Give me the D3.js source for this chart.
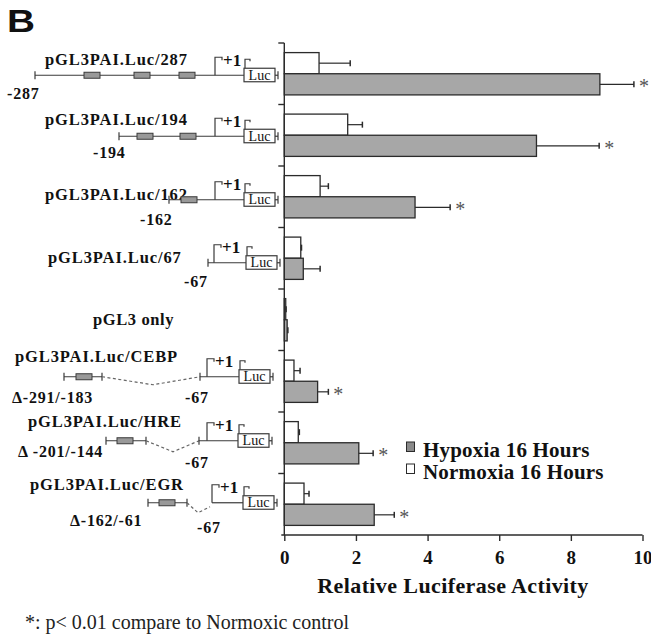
<!DOCTYPE html>
<html>
<head>
<meta charset="utf-8">
<script src="https://cdn.jsdelivr.net/npm/d3@7"></script>
<style>
  body { margin: 0; background: #fff; }
  svg { display: block; }
  text { fill: #111; }
  .serif { font-family: "Liberation Serif", "Times New Roman", serif; }
  .bold { font-weight: bold; }
</style>
</head>
<body>
<div id="chart"></div>
<script>
// data
const constructs = ["pGL3PAI.Luc/287", "pGL3PAI.Luc/194", "pGL3PAI.Luc/162", "pGL3PAI.Luc/67",
  "pGL3 only", "pGL3PAI.Luc/CEBP", "pGL3PAI.Luc/HRE", "pGL3PAI.Luc/EGR"];
const seriesNames = ["Normoxia 16 Hours", "Hypoxia 16 Hours"];
const normoxia = [0.97, 1.77, 1.0, 0.46, 0.04, 0.27, 0.39, 0.55];
const normoxiaErr = [0.87, 0.41, 0.23, 0.02, 0.01, 0.17, 0.03, 0.14];
const hypoxia = [8.81, 7.04, 3.65, 0.53, 0.08, 0.93, 2.08, 2.51];
const hypoxiaErr = [0.95, 1.75, 0.98, 0.47, 0.02, 0.30, 0.40, 0.56];
const significant = [true, true, true, false, false, true, true, true];
const xTicks = [0, 2, 4, 6, 8, 10];

// promoter schematics drawn left of each bar group (layout of the illustration)
const schematics = [
  {dy: 1.5, titleX: 45, titleDy: -10, start: 35, elements: [84, 134, 179], arrow: 215, luc: 244,
   marks: [{t: "-287", x: 7, dy: 24}]},
  {dy: 1, titleX: 45, titleDy: -11, start: 119, elements: [137, 180], arrow: 215, luc: 244,
   marks: [{t: "-194", x: 93, dy: 22}]},
  {dy: 3, titleX: 45, titleDy: 0, start: 169, elements: [181], arrow: 215, luc: 244,
   marks: [{t: "-162", x: 140, dy: 25}]},
  {dy: 4.5, titleX: 48, titleDy: 0, start: 208, elements: [], arrow: 214, luc: 246,
   marks: [{t: "-67", x: 184, dy: 24}]},
  {dy: 0, titleX: 93, titleDy: 5, only: true},
  {dy: -4.5, titleX: 15, titleDy: -15, start: 200, left: [64, 102], elements: [76],
   dashed: [[102, 0], [153, 8], [200, 0]], arrow: 207, luc: 239,
   marks: [{t: "\u0394-291/-183", x: 12, dy: 26}, {t: "-67", x: 185, dy: 26}]},
  {dy: -2, titleX: 28, titleDy: -14, start: 199, left: [106, 146], elements: [117],
   dashed: [[146, 0], [173, 11], [199, 0]], arrow: 207, luc: 238,
   marks: [{t: "\u0394 -201/-144", x: 18, dy: 16}, {t: "-67", x: 185, dy: 27}]},
  {dy: -1.5, titleX: 30, titleDy: -13, start: 212, noTick: true, left: [148, 187], elements: [159],
   dashed: [[187, 0], [198, 10], [210, 4]], arrow: 212, luc: 243,
   marks: [{t: "\u0394-162/-61", x: 70, dy: 23}, {t: "-67", x: 197, dy: 30}]}
];

const W = 651, H = 638;
const gray = "#a7a7a7", ink = "#2b2b2b";

const svg = d3.select("#chart").append("svg")
  .attr("width", W).attr("height", H);

const x = d3.scaleLinear().domain([0, 10]).range([284.3, 642.5]);
const y0 = d3.scaleBand().domain(constructs).range([43, 535]);
const y1 = d3.scaleBand().domain(seriesNames).range([9.6, y0.bandwidth() - 9.6]);

const rows = constructs.map((c, i) => ({
  name: c, i: i, sig: significant[i],
  bars: [
    {s: seriesNames[0], v: normoxia[i], e: normoxiaErr[i], fill: "#fff"},
    {s: seriesNames[1], v: hypoxia[i], e: hypoxiaErr[i], fill: gray}
  ]
}));

// panel letter
svg.append("text").attr("transform", "translate(7,32) scale(1.25,1)")
  .style("font-family", "'Liberation Sans', Arial, sans-serif")
  .style("font-weight", 900).style("font-size", "31px").text("B");

// bars
const group = svg.append("g").selectAll("g").data(rows).join("g")
  .attr("transform", d => `translate(0,${y0(d.name)})`);

group.selectAll("rect").data(d => d.bars).join("rect")
  .attr("x", x(0))
  .attr("y", b => y1(b.s))
  .attr("width", b => x(b.v) - x(0))
  .attr("height", y1.bandwidth())
  .attr("fill", b => b.fill)
  .attr("stroke", ink).attr("stroke-width", 1.3);

// error bars
const err = group.selectAll("g.err").data(d => d.bars).join("g").attr("class", "err")
  .attr("transform", b => `translate(0,${y1(b.s) + y1.bandwidth() / 2})`);
err.append("line")
  .attr("x1", b => x(b.v)).attr("x2", b => x(b.v + b.e))
  .attr("stroke", ink).attr("stroke-width", 1.2);
err.append("line")
  .attr("x1", b => x(b.v + b.e)).attr("x2", b => x(b.v + b.e))
  .attr("y1", -3).attr("y2", 3)
  .attr("stroke", ink).attr("stroke-width", 1.5);

// significance stars
group.filter(d => d.sig).append("text")
  .attr("x", d => x(d.bars[1].v + d.bars[1].e) + 5)
  .attr("y", d => y1(seriesNames[1]) + y1.bandwidth() / 2 + 9)
  .attr("class", "serif")
  .style("font-size", "20px").style("fill", "#555")
  .text("*");

// y axis with ticks at the group boundaries
svg.append("line")
  .attr("x1", x(0)).attr("x2", x(0))
  .attr("y1", y0.range()[0]).attr("y2", y0.range()[1])
  .attr("stroke", ink).attr("stroke-width", 1.4);
svg.append("g").selectAll("line").data(constructs).join("line")
  .attr("x1", x(0) - 6).attr("x2", x(0))
  .attr("y1", d => y0(d)).attr("y2", d => y0(d))
  .attr("stroke", ink).attr("stroke-width", 1.4);

// x axis
const xAxis = svg.append("g")
  .attr("transform", `translate(0,${y0.range()[1]})`)
  .call(d3.axisBottom(x).tickValues(xTicks).tickSize(6).tickPadding(6).tickFormat(d3.format("d")));
xAxis.select(".domain").attr("stroke", ink).attr("stroke-width", 1.4)
  .attr("d", `M${x(0) - 3},0H${x(10)}`);
xAxis.selectAll(".tick line").attr("stroke", ink).attr("stroke-width", 1.4);
xAxis.selectAll(".tick text")
  .attr("class", "serif bold").attr("fill", "#111")
  .style("font-size", "19px").attr("dy", "0.9em");

svg.append("text")
  .attr("x", 453).attr("y", 593)
  .attr("text-anchor", "middle")
  .attr("class", "serif bold")
  .style("font-size", "22px").style("letter-spacing", "0.4px")
  .text("Relative Luciferase Activity");

// legend
const legend = svg.append("g").selectAll("g").data(seriesNames.slice().reverse()).join("g")
  .attr("transform", (d, i) => `translate(406.5,${442 + i * 22})`);
legend.append("rect")
  .attr("width", 8).attr("height", 9.5)
  .attr("fill", d => d === seriesNames[1] ? "#8a8a8a" : "#fff")
  .attr("stroke", ink).attr("stroke-width", 1);
legend.append("text")
  .attr("x", 16.5).attr("y", 14.5)
  .attr("class", "serif bold")
  .style("font-size", "21px").style("letter-spacing", "0.2px")
  .text(d => d);

// footnote
svg.append("text")
  .attr("x", 25).attr("y", 629)
  .attr("class", "serif")
  .style("font-size", "20px").style("fill", "#222")
  .text("*: p< 0.01 compare to Normoxic control");

// promoter diagrams
const diag = svg.append("g").selectAll("g").data(rows).join("g")
  .attr("transform", d => `translate(0,${y0(d.name) + y0.bandwidth() / 2 + schematics[d.i].dy})`);

diag.append("text")
  .attr("x", d => schematics[d.i].titleX)
  .attr("y", d => schematics[d.i].titleDy)
  .attr("class", "serif bold")
  .style("font-size", "16.5px")
  .style("letter-spacing", d => schematics[d.i].only ? "0.6px" : "0.9px")
  .text(d => d.name);

diag.each(function(d) {
  const s = schematics[d.i];
  if (s.only) return;
  const g = d3.select(this);
  const stroke = el => el.attr("stroke", "#3a3a3a").attr("stroke-width", 1.2).attr("fill", "none");

  if (s.left) {
    g.append("line").attr("x1", s.left[0]).attr("x2", s.left[1]).call(stroke);
    s.left.forEach(px => g.append("line").attr("x1", px).attr("x2", px).attr("y1", -4).attr("y2", 4).call(stroke));
    g.append("path").attr("d", d3.line()(s.dashed)).call(stroke)
      .attr("stroke-dasharray", "3,2.5").attr("stroke", "#666");
  }
  g.append("line").attr("x1", s.start).attr("x2", s.luc).call(stroke);
  if (!s.noTick) g.append("line").attr("x1", s.start).attr("x2", s.start).attr("y1", -4).attr("y2", 4).call(stroke);

  g.selectAll("rect.el").data(s.elements).join("rect").attr("class", "el")
    .attr("x", px => px).attr("y", -3).attr("width", 16).attr("height", 6)
    .attr("fill", "#999").attr("stroke", "#3a3a3a").attr("stroke-width", 1);

  // transcription start arrow and +1
  g.append("path").attr("d", `M${s.arrow},0V-18H${s.arrow + 7}V-15`).call(stroke);
  g.append("text").attr("x", s.arrow + 8).attr("y", -9.5)
    .attr("class", "serif bold").style("font-size", "17px").text("+1");
  g.append("path").attr("d", `M${s.luc + 1},-7V-16H${s.luc + 6}V-14`).call(stroke);

  // luciferase box
  g.append("rect").attr("x", s.luc).attr("y", -7).attr("width", 31).attr("height", 13.5)
    .attr("fill", "#fff").attr("stroke", "#3a3a3a").attr("stroke-width", 1.2);
  g.append("text").attr("x", s.luc + 15.5).attr("y", 4.5).attr("text-anchor", "middle")
    .attr("class", "serif").style("font-size", "14px").text("Luc");
  g.append("line").attr("x1", s.luc + 31).attr("x2", s.luc + 34).call(stroke);
  g.append("line").attr("x1", s.luc + 34).attr("x2", s.luc + 34).attr("y1", -4).attr("y2", 4).call(stroke);

  g.selectAll("text.mark").data(s.marks).join("text").attr("class", "mark serif bold")
    .attr("x", m => m.x).attr("y", m => m.dy)
    .style("font-size", "16px").style("letter-spacing", "0.8px").text(m => m.t);
});
</script>
</body>
</html>
